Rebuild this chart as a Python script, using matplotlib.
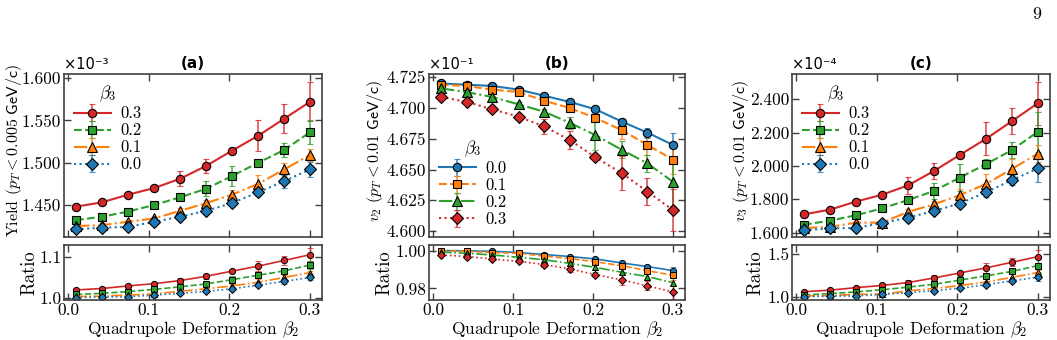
import numpy as np
import matplotlib
matplotlib.use('Agg')
import matplotlib.pyplot as plt
from matplotlib.ticker import MultipleLocator, FormatStrFormatter
from matplotlib.colors import to_rgba

plt.rcParams['font.family'] = 'serif'
plt.rcParams['font.serif'] = ['cmr10', 'DejaVu Serif']
plt.rcParams['mathtext.fontset'] = 'cm'
plt.rcParams['axes.formatter.use_mathtext'] = True
plt.rcParams['font.size'] = 10

# quadrupole deformation beta2
beta2 = np.array([0.010, 0.042, 0.074, 0.107, 0.139, 0.171, 0.203, 0.236, 0.268, 0.300])
beta3 = ['0.0', '0.1', '0.2', '0.3']
colors = {'0.0': 'tab:blue', '0.1': 'tab:orange', '0.2': 'tab:green', '0.3': 'tab:red'}

# (a) yield, units of 1e-3
yield_vals = {
    '0.3': [1.448, 1.453, 1.462, 1.470, 1.481, 1.496, 1.514, 1.532, 1.552, 1.572],
    '0.2': [1.432, 1.436, 1.442, 1.450, 1.459, 1.469, 1.484, 1.500, 1.515, 1.536],
    '0.1': [1.425, 1.426, 1.430, 1.434, 1.443, 1.452, 1.462, 1.475, 1.492, 1.509],
    '0.0': [1.421, 1.423, 1.424, 1.430, 1.436, 1.443, 1.452, 1.465, 1.478, 1.492],
}
yield_errs = {
    '0.3': [0.002, 0.002, 0.002, 0.003, 0.009, 0.008, 0.003, 0.018, 0.017, 0.023],
    '0.2': [0.002, 0.002, 0.002, 0.002, 0.003, 0.009, 0.012, 0.004, 0.008, 0.014],
    '0.1': [0.002, 0.002, 0.002, 0.002, 0.003, 0.004, 0.006, 0.010, 0.008, 0.007],
    '0.0': [0.002, 0.002, 0.002, 0.002, 0.003, 0.003, 0.003, 0.004, 0.008, 0.009],
}

# (b) v2, units of 1e-1
v2_vals = {
    '0.0': [4.720, 4.719, 4.718, 4.715, 4.710, 4.705, 4.699, 4.689, 4.680, 4.670],
    '0.1': [4.719, 4.718, 4.715, 4.713, 4.706, 4.700, 4.692, 4.682, 4.670, 4.658],
    '0.2': [4.716, 4.713, 4.709, 4.703, 4.697, 4.688, 4.678, 4.666, 4.655, 4.640],
    '0.3': [4.709, 4.705, 4.699, 4.693, 4.685, 4.674, 4.660, 4.647, 4.632, 4.617],
}
v2_errs = {
    '0.0': [0.001, 0.001, 0.001, 0.001, 0.001, 0.001, 0.001, 0.002, 0.004, 0.010],
    '0.1': [0.001, 0.001, 0.001, 0.001, 0.002, 0.002, 0.003, 0.007, 0.008, 0.012],
    '0.2': [0.001, 0.001, 0.001, 0.002, 0.002, 0.005, 0.012, 0.007, 0.007, 0.020],
    '0.3': [0.001, 0.002, 0.002, 0.002, 0.006, 0.007, 0.002, 0.014, 0.011, 0.017],
}

# (c) v3, units of 1e-4
v3_vals = {
    '0.3': [1.710, 1.738, 1.786, 1.828, 1.884, 1.970, 2.066, 2.164, 2.270, 2.377],
    '0.2': [1.648, 1.672, 1.704, 1.746, 1.796, 1.850, 1.930, 2.012, 2.096, 2.206],
    '0.1': [1.628, 1.634, 1.660, 1.660, 1.725, 1.770, 1.825, 1.893, 1.983, 2.075],
    '0.0': [1.614, 1.626, 1.628, 1.658, 1.690, 1.730, 1.775, 1.843, 1.916, 1.986],
}
v3_errs = {
    '0.3': [0.012, 0.012, 0.012, 0.012, 0.050, 0.050, 0.020, 0.100, 0.080, 0.130],
    '0.2': [0.010, 0.010, 0.010, 0.010, 0.020, 0.050, 0.080, 0.030, 0.050, 0.120],
    '0.1': [0.010, 0.010, 0.010, 0.010, 0.020, 0.020, 0.040, 0.060, 0.060, 0.050],
    '0.0': [0.010, 0.010, 0.010, 0.010, 0.015, 0.015, 0.020, 0.030, 0.030, 0.080],
}

styles = [('o', '-'), ('s', '--'), ('^', '-.'), ('D', ':')]

panels = [
    dict(title='(a)', vals=yield_vals, errs=yield_errs, order=['0.3', '0.2', '0.1', '0.0'],
         ylabel=r'Yield ($p_T<\mathsf{0.005\ GeV/c}$)', offset='×10⁻³',
         ylim=(1.412, 1.605), ystep=0.05, rlim=(0.994, 1.1305), rstep=0.1, rfmt='%.1f',
         left=64, width=258, legloc='upper left', ylab_x=-0.155, rlab_x=-0.098),
    dict(title='(b)', vals=v2_vals, errs=v2_errs, order=['0.0', '0.1', '0.2', '0.3'],
         ylabel=r'$v_2$ ($p_T<\mathsf{0.01\ GeV/c}$)', offset='×10⁻¹',
         ylim=(4.5951, 4.7277), ystep=0.025, rlim=(0.9739, 1.0029), rstep=0.02, rfmt='%.2f',
         left=429, width=256, legloc='lower left', ylab_x=-0.17, rlab_x=-0.14),
    dict(title='(c)', vals=v3_vals, errs=v3_errs, order=['0.3', '0.2', '0.1', '0.0'],
         ylabel=r'$v_3$ ($p_T<\mathsf{0.01\ GeV/c}$)', offset='×10⁻⁴',
         ylim=(1.574, 2.552), ystep=0.2, rlim=(0.961, 1.61), rstep=0.5, rfmt='%.1f',
         left=792, width=258, legloc='upper left', ylab_x=-0.16, rlab_x=-0.105),
]

W, H = 1057, 340
fig = plt.figure(figsize=(W / 100, H / 100), dpi=100)
spine_c = '#404040'


def style_axes(ax):
    for s in ax.spines.values():
        s.set_color(spine_c)
        s.set_linewidth(1.2)
    ax.tick_params(direction='in', top=True, right=True, length=5, width=1.0,
                   color=spine_c, labelsize=12.5, pad=2)
    ax.set_xlim(-0.005, 0.315)
    ax.xaxis.set_major_locator(MultipleLocator(0.1))


for p in panels:
    ax = fig.add_axes([p['left'] / W, (H - 237) / H, p['width'] / W, (237 - 74) / H])
    axr = fig.add_axes([p['left'] / W, (H - 300) / H, p['width'] / W, (300 - 245) / H])
    ref = np.array(p['vals']['0.0'])[0]
    for (mk, ls), key in zip(styles, p['order']):
        y = np.array(p['vals'][key])
        e = np.array(p['errs'][key])
        c = colors[key]
        ax.errorbar(beta2, y, yerr=e, color=c, ecolor=to_rgba(c, 0.8), marker=mk, ls=ls,
                    lw=1.5, ms=6 if mk != '^' else 6.5, mec='black', mew=0.8,
                    elinewidth=1.2, capsize=2.5, label=key)
        axr.errorbar(beta2, y / ref, yerr=e / ref, color=c, ecolor=to_rgba(c, 0.8), marker=mk,
                     ls=ls, lw=1.2, ms=4.5, mec='black', mew=0.7, elinewidth=1.0, capsize=2)
    style_axes(ax)
    style_axes(axr)
    ax.set_xticklabels([])
    ax.set_ylim(*p['ylim'])
    ax.yaxis.set_major_locator(MultipleLocator(p['ystep']))
    ax.yaxis.set_major_formatter(FormatStrFormatter('%.3f'))
    ax.set_ylabel(p['ylabel'], fontsize=11.5)
    ax.yaxis.set_label_coords(p['ylab_x'], 0.53)
    ax.set_title(p['title'], fontfamily='DejaVu Sans', fontweight='bold', fontsize=11, pad=4)
    ax.text(0.0, 1.01, p['offset'], transform=ax.transAxes, fontfamily='DejaVu Sans',
            fontsize=10.5, ha='left', va='bottom')
    leg = ax.legend(loc=p['legloc'], frameon=False, title=r'$\beta_3$', fontsize=12,
                    title_fontsize=12.5, handlelength=2.2, handletextpad=0.6,
                    borderaxespad=0.2, labelspacing=0.1)
    axr.set_ylim(*p['rlim'])
    axr.yaxis.set_major_locator(MultipleLocator(p['rstep']))
    axr.yaxis.set_major_formatter(FormatStrFormatter(p['rfmt']))
    axr.xaxis.set_major_formatter(FormatStrFormatter('%.1f'))
    axr.set_ylabel('Ratio', fontsize=13.5)
    axr.yaxis.set_label_coords(p['rlab_x'], 0.5)
    axr.set_xlabel(r'Quadrupole Deformation $\beta_2$', fontsize=12.5, labelpad=1)

fig.text(1037 / W, 1 - 14 / H, '9', fontsize=13, ha='center', va='center')

fig.savefig('out.png', dpi=100)
